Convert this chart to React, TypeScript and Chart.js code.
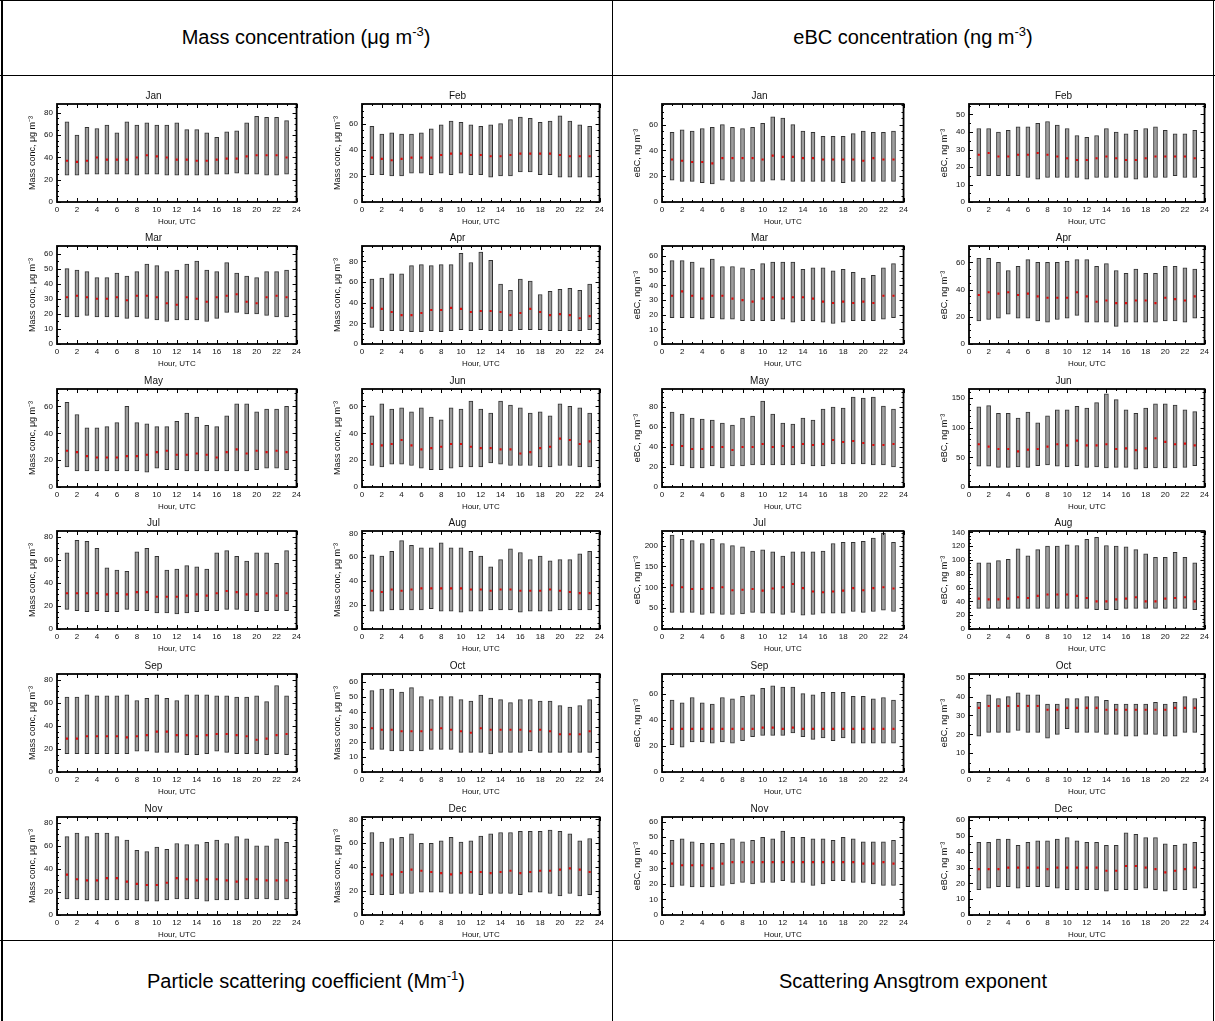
import React, { useEffect, useRef } from "react";
import { Chart, registerables } from "chart.js";

Chart.register(...registerables);
Chart.defaults.font.family = "'Liberation Sans', Arial, Helvetica, sans-serif";

// ---------- DATA ----------
const HOURS = [1, 2, 3, 4, 5, 6, 7, 8, 9, 10, 11, 12, 13, 14, 15, 16, 17, 18, 19, 20, 21, 22, 23];
const MONTHS = ["Jan", "Feb", "Mar", "Apr", "May", "Jun", "Jul", "Aug", "Sep", "Oct", "Nov", "Dec"];
const X_MAX = 24;
const X_STEP = 2;

const MASS_TITLE = "Mass conc, \u03bcg m\u207b\u00b3";
const EBC_TITLE = "eBC, ng m\u207b\u00b3";

// Mass concentration (µg m-3): hourly upper/lower whisker and median
const massJanHi = [72, 60, 67, 66, 69, 62, 72, 69, 71, 69, 69, 71, 65, 65, 62, 58, 63, 64, 71, 77, 76, 76, 73];
const massJanLo = [24, 24, 25, 25, 25, 25, 25, 24, 25, 25, 24, 24, 24, 24, 24, 25, 25, 26, 25, 25, 24, 24, 25];
const massJanMed = [37, 36, 37, 40, 38, 38, 38, 40, 42, 41, 40, 38, 38, 37, 37, 38, 39, 39, 41, 42, 42, 42, 40];

const massFebHi = [58, 52, 53, 52, 52, 53, 56, 59, 62, 61, 59, 58, 59, 60, 63, 65, 64, 61, 62, 66, 62, 59, 58];
const massFebLo = [21, 21, 20, 20, 22, 22, 21, 22, 21, 22, 21, 21, 19, 20, 20, 23, 23, 21, 21, 19, 19, 19, 19];
const massFebMed = [34, 33, 32, 33, 34, 34, 34, 36, 37, 37, 36, 36, 35, 35, 36, 37, 37, 37, 37, 36, 35, 35, 35];

const massMarHi = [50, 49, 48, 44, 44, 47, 45, 48, 53, 52, 48, 49, 53, 55, 49, 48, 54, 47, 45, 44, 48, 48, 49];
const massMarLo = [18, 18, 19, 18, 18, 18, 17, 18, 17, 16, 15, 16, 16, 16, 15, 17, 21, 21, 20, 20, 19, 18, 18];
const massMarMed = [31, 32, 31, 30, 30, 31, 29, 32, 32, 31, 27, 26, 31, 30, 28, 31, 32, 33, 28, 27, 31, 32, 31];

const massAprHi = [63, 64, 68, 68, 76, 77, 76, 77, 77, 88, 79, 89, 81, 58, 52, 63, 61, 48, 51, 53, 54, 52, 58];
const massAprLo = [16, 13, 13, 13, 12, 12, 13, 12, 13, 14, 13, 14, 13, 13, 13, 14, 14, 14, 13, 13, 13, 13, 14];
const massAprMed = [35, 34, 31, 28, 28, 30, 33, 33, 35, 34, 31, 32, 32, 31, 28, 30, 34, 31, 28, 29, 28, 25, 27];

const massMayHi = [63, 54, 44, 44, 45, 48, 60, 48, 47, 45, 45, 49, 55, 52, 46, 45, 53, 62, 62, 56, 58, 58, 60];
const massMayLo = [15, 12, 12, 12, 12, 12, 12, 12, 11, 14, 13, 13, 12, 12, 12, 12, 12, 12, 12, 13, 14, 14, 13];
const massMayMed = [27, 26, 23, 22, 22, 22, 23, 23, 24, 26, 27, 24, 24, 25, 24, 22, 26, 28, 25, 27, 26, 27, 26];

const massJunHi = [53, 62, 58, 59, 56, 59, 52, 50, 59, 58, 64, 58, 55, 64, 61, 59, 55, 56, 53, 62, 60, 59, 55];
const massJunLo = [16, 15, 17, 17, 16, 14, 13, 13, 14, 15, 15, 15, 18, 17, 16, 16, 16, 15, 15, 16, 16, 15, 15];
const massJunMed = [32, 31, 32, 35, 31, 28, 29, 30, 32, 32, 30, 29, 29, 28, 28, 25, 26, 29, 30, 36, 35, 32, 34];

const massJulHi = [66, 77, 76, 70, 53, 51, 50, 67, 70, 63, 51, 52, 55, 54, 52, 66, 68, 63, 59, 66, 66, 57, 68];
const massJulLo = [17, 16, 15, 16, 15, 15, 17, 16, 16, 14, 14, 13, 14, 15, 16, 16, 17, 17, 16, 15, 16, 16, 16];
const massJulMed = [31, 31, 31, 31, 30, 31, 30, 32, 32, 28, 28, 28, 29, 30, 29, 31, 33, 32, 30, 30, 31, 29, 31];

const massAugHi = [62, 61, 65, 74, 70, 68, 68, 72, 68, 68, 65, 61, 52, 58, 67, 64, 58, 61, 57, 58, 58, 63, 65];
const massAugLo = [15, 15, 16, 16, 16, 16, 17, 15, 15, 14, 15, 15, 16, 16, 16, 14, 15, 15, 15, 16, 16, 16, 16];
const massAugMed = [32, 31, 33, 32, 33, 34, 34, 34, 34, 34, 33, 33, 32, 33, 33, 32, 32, 32, 33, 32, 31, 30, 30];

const massSepHi = [65, 65, 67, 66, 66, 66, 67, 62, 64, 67, 64, 62, 67, 67, 67, 66, 66, 65, 65, 66, 61, 75, 66];
const massSepLo = [16, 16, 16, 16, 16, 16, 16, 18, 18, 17, 17, 17, 15, 15, 16, 18, 17, 16, 16, 16, 15, 16, 15];
const massSepMed = [29, 29, 31, 31, 31, 31, 30, 31, 32, 35, 35, 32, 32, 31, 32, 33, 33, 32, 31, 28, 29, 32, 33];

const massOctHi = [54, 55, 55, 53, 56, 50, 48, 50, 50, 48, 47, 51, 49, 48, 46, 48, 48, 47, 47, 44, 43, 44, 48];
const massOctLo = [15, 15, 14, 14, 14, 14, 15, 15, 15, 13, 13, 13, 12, 13, 13, 13, 14, 13, 13, 13, 13, 13, 13];
const massOctMed = [29, 28, 28, 27, 27, 27, 28, 29, 28, 27, 26, 29, 28, 28, 28, 28, 27, 28, 27, 25, 25, 25, 27];

const massNovHi = [68, 71, 68, 71, 71, 68, 65, 56, 55, 59, 57, 62, 61, 61, 63, 65, 62, 68, 66, 60, 60, 66, 63];
const massNovLo = [14, 14, 13, 13, 13, 13, 13, 13, 12, 12, 13, 14, 14, 14, 12, 13, 13, 13, 14, 14, 14, 13, 14];
const massNovMed = [35, 31, 30, 30, 32, 32, 29, 27, 26, 26, 28, 32, 31, 30, 31, 31, 30, 29, 31, 31, 30, 30, 30];

const massDecHi = [69, 61, 64, 65, 68, 60, 60, 62, 65, 61, 62, 66, 68, 69, 69, 70, 70, 70, 71, 70, 68, 62, 64];
const massDecLo = [17, 17, 17, 18, 18, 19, 19, 19, 18, 18, 18, 17, 18, 18, 18, 17, 19, 19, 18, 16, 18, 16, 17];
const massDecMed = [34, 33, 34, 36, 38, 37, 36, 35, 34, 35, 36, 36, 35, 36, 37, 35, 36, 37, 37, 38, 39, 38, 36];

// eBC concentration (ng m-3)
const ebcJanHi = [54, 56, 55, 57, 58, 60, 58, 57, 58, 61, 66, 65, 60, 55, 54, 51, 51, 51, 53, 55, 54, 54, 55];
const ebcJanLo = [17, 16, 16, 15, 14, 17, 16, 16, 16, 16, 17, 17, 16, 16, 16, 16, 16, 15, 16, 16, 16, 16, 16];
const ebcJanMed = [33, 32, 31, 31, 30, 34, 34, 34, 34, 33, 36, 35, 35, 34, 34, 33, 33, 33, 33, 32, 34, 33, 33];

const ebcFebHi = [42, 42, 40, 41, 43, 43, 45, 46, 44, 42, 38, 37, 38, 42, 40, 39, 41, 42, 43, 41, 39, 39, 41];
const ebcFebLo = [15, 15, 15, 15, 15, 14, 13, 14, 14, 14, 14, 13, 14, 14, 14, 14, 13, 14, 14, 14, 15, 14, 14];
const ebcFebMed = [27, 28, 26, 26, 27, 27, 28, 27, 26, 25, 24, 24, 25, 26, 25, 24, 24, 25, 26, 26, 26, 26, 25];

const ebcMarHi = [57, 57, 56, 52, 58, 53, 53, 52, 51, 55, 56, 56, 56, 51, 52, 52, 50, 51, 49, 45, 47, 52, 55];
const ebcMarLo = [18, 18, 18, 17, 18, 17, 17, 16, 16, 16, 16, 17, 15, 16, 16, 15, 14, 15, 16, 16, 16, 17, 18];
const ebcMarMed = [33, 36, 33, 31, 33, 33, 31, 30, 29, 31, 32, 31, 32, 32, 31, 29, 28, 29, 28, 29, 28, 33, 33];

const ebcAprHi = [63, 63, 60, 54, 57, 62, 60, 60, 60, 61, 62, 62, 57, 59, 54, 52, 55, 52, 52, 57, 57, 56, 55];
const ebcAprLo = [17, 18, 19, 22, 19, 19, 17, 16, 18, 19, 21, 16, 16, 16, 13, 16, 16, 16, 16, 17, 17, 16, 19];
const ebcAprMed = [36, 38, 37, 38, 36, 37, 35, 34, 34, 34, 38, 35, 31, 32, 30, 30, 32, 32, 30, 34, 33, 32, 35];

const ebcMayHi = [75, 73, 69, 68, 67, 64, 62, 69, 71, 86, 73, 64, 63, 69, 67, 78, 80, 79, 90, 89, 90, 81, 78];
const ebcMayLo = [22, 21, 19, 19, 21, 19, 21, 21, 22, 22, 22, 22, 22, 23, 21, 21, 23, 23, 23, 23, 22, 22, 20];
const ebcMayMed = [42, 41, 38, 38, 40, 40, 37, 40, 40, 43, 40, 41, 40, 43, 42, 43, 47, 45, 46, 44, 42, 42, 43];

const ebcJunHi = [135, 137, 124, 124, 116, 126, 108, 120, 130, 130, 136, 133, 142, 157, 147, 130, 124, 133, 140, 140, 138, 130, 127];
const ebcJunLo = [35, 35, 33, 33, 34, 33, 36, 37, 35, 34, 36, 33, 34, 32, 33, 33, 30, 32, 32, 32, 32, 33, 36];
const ebcJunMed = [72, 68, 64, 64, 60, 63, 64, 68, 72, 70, 78, 70, 70, 72, 64, 65, 62, 65, 82, 76, 72, 73, 70];

const ebcJulHi = [225, 215, 212, 205, 215, 205, 200, 197, 187, 190, 185, 175, 185, 185, 185, 187, 205, 208, 208, 210, 218, 230, 208];
const ebcJulLo = [40, 40, 40, 35, 38, 35, 35, 36, 40, 38, 38, 35, 40, 33, 35, 38, 38, 38, 42, 40, 42, 45, 42];
const ebcJulMed = [105, 100, 96, 96, 98, 100, 93, 94, 96, 92, 97, 100, 108, 98, 90, 88, 90, 92, 98, 93, 98, 100, 97];

const ebcAugHi = [96, 96, 99, 101, 116, 106, 115, 120, 120, 122, 121, 130, 133, 121, 120, 119, 115, 109, 104, 104, 111, 104, 96];
const ebcAugLo = [30, 30, 30, 30, 30, 30, 30, 30, 30, 30, 30, 30, 28, 28, 28, 30, 30, 30, 30, 30, 30, 30, 28];
const ebcAugMed = [44, 43, 43, 44, 46, 45, 48, 50, 50, 50, 48, 45, 40, 40, 43, 44, 46, 40, 40, 44, 45, 46, 40];

const ebcSepHi = [55, 53, 57, 53, 52, 57, 56, 58, 59, 64, 66, 65, 65, 60, 59, 61, 61, 61, 58, 58, 56, 57, 55];
const ebcSepLo = [21, 19, 23, 23, 22, 23, 22, 24, 27, 28, 28, 28, 30, 27, 25, 26, 24, 26, 22, 22, 22, 22, 22];
const ebcSepMed = [33, 33, 33, 33, 33, 33, 33, 33, 33, 34, 34, 33, 34, 33, 33, 33, 33, 33, 33, 33, 33, 33, 33];

const ebcOctHi = [37, 41, 39, 40, 42, 41, 41, 36, 36, 39, 39, 40, 40, 38, 36, 36, 36, 36, 37, 36, 37, 40, 39];
const ebcOctLo = [19, 21, 21, 21, 22, 21, 21, 18, 20, 23, 21, 21, 21, 20, 20, 19, 19, 20, 20, 19, 19, 21, 21];
const ebcOctMed = [34, 35, 35, 35, 35, 35, 35, 33, 33, 34, 34, 34, 34, 33, 33, 33, 33, 33, 33, 33, 34, 34, 34];

const ebcNovHi = [48, 49, 47, 46, 46, 46, 49, 47, 48, 50, 49, 54, 50, 50, 49, 49, 48, 50, 49, 47, 47, 47, 48];
const ebcNovLo = [18, 19, 18, 18, 18, 19, 20, 21, 20, 21, 21, 22, 21, 21, 19, 20, 22, 22, 21, 21, 20, 19, 19];
const ebcNovMed = [33, 32, 32, 32, 30, 33, 34, 34, 34, 34, 34, 34, 34, 34, 34, 34, 34, 34, 34, 33, 33, 34, 33];

const ebcDecHi = [46, 46, 48, 48, 44, 46, 47, 47, 48, 49, 47, 46, 46, 44, 44, 52, 51, 49, 49, 45, 44, 45, 46];
const ebcDecLo = [16, 17, 18, 18, 17, 18, 18, 18, 17, 16, 16, 16, 16, 15, 16, 16, 16, 17, 16, 15, 16, 16, 17];
const ebcDecMed = [29, 29, 29, 30, 30, 30, 30, 29, 30, 30, 30, 30, 30, 28, 28, 31, 31, 30, 29, 27, 28, 29, 30];

const massHi = [massJanHi, massFebHi, massMarHi, massAprHi, massMayHi, massJunHi, massJulHi, massAugHi, massSepHi, massOctHi, massNovHi, massDecHi];
const massLo = [massJanLo, massFebLo, massMarLo, massAprLo, massMayLo, massJunLo, massJulLo, massAugLo, massSepLo, massOctLo, massNovLo, massDecLo];
const massMed = [massJanMed, massFebMed, massMarMed, massAprMed, massMayMed, massJunMed, massJulMed, massAugMed, massSepMed, massOctMed, massNovMed, massDecMed];
const ebcHi = [ebcJanHi, ebcFebHi, ebcMarHi, ebcAprHi, ebcMayHi, ebcJunHi, ebcJulHi, ebcAugHi, ebcSepHi, ebcOctHi, ebcNovHi, ebcDecHi];
const ebcLo = [ebcJanLo, ebcFebLo, ebcMarLo, ebcAprLo, ebcMayLo, ebcJunLo, ebcJulLo, ebcAugLo, ebcSepLo, ebcOctLo, ebcNovLo, ebcDecLo];
const ebcMed = [ebcJanMed, ebcFebMed, ebcMarMed, ebcAprMed, ebcMayMed, ebcJunMed, ebcJulMed, ebcAugMed, ebcSepMed, ebcOctMed, ebcNovMed, ebcDecMed];

// y-axis ranges per month
const massYMax = [88, 75, 65, 95, 73, 73, 85, 82, 85, 65, 85, 82];
const massYStep = [20, 20, 10, 20, 20, 20, 20, 20, 20, 10, 20, 20];
const ebcYMax = [76, 56, 67, 72, 98, 165, 235, 142, 75, 52, 63, 62];
const ebcYStep = [20, 10, 10, 20, 20, 50, 50, 20, 20, 10, 10, 10];

// ---------- LAYOUT ----------
const COL_LEFT = [57, 362, 662, 969];
const COL_W = [241, 239, 243, 237];
const ROW_TOP = [104, 246, 389, 531, 674, 817];
const BOX_H = 98;
const Y_AXIS_W = 48;
const X_AXIS_H = 30;
const TITLE_H = 16;
const RIGHT_PAD = 6;

const framePlugin = {
  id: "frame",
  afterDatasetsDraw(chart: any, _args: any, opts: any) {
    const { ctx, chartArea: a, scales } = chart;
    const xs = scales.x;
    const ys = scales.y;
    ctx.save();
    ctx.strokeStyle = "#000";
    ctx.lineWidth = 1;
    const seg = (x1: number, y1: number, x2: number, y2: number) => {
      ctx.beginPath();
      ctx.moveTo(x1, y1);
      ctx.lineTo(x2, y2);
      ctx.stroke();
    };
    for (let v = 0; v <= X_MAX; v += 1) {
      const px = Math.round(xs.getPixelForValue(v)) + 0.5;
      const len = v % X_STEP === 0 ? 4 : 2;
      seg(px, a.bottom, px, a.bottom - len);
      seg(px, a.top, px, a.top + len);
    }
    const { step, minor, max } = opts;
    for (let v = 0; v <= max; v += minor) {
      const py = Math.round(ys.getPixelForValue(v)) + 0.5;
      const len = v % step === 0 ? 4 : 2;
      seg(a.left, py, a.left + len, py);
      seg(a.right, py, a.right - len, py);
    }
    ctx.lineWidth = 1.8;
    ctx.strokeRect(a.left, a.top, a.right - a.left, a.bottom - a.top);
    ctx.restore();
  },
};

type PanelProps = {
  title: string;
  hi: number[];
  lo: number[];
  med: number[];
  yMax: number;
  yStep: number;
  yTitle: string;
  boxLeft: number;
  boxTop: number;
  boxW: number;
};

function Panel(p: PanelProps) {
  const ref = useRef<HTMLCanvasElement>(null);
  const w = Y_AXIS_W + p.boxW + RIGHT_PAD;
  const h = TITLE_H + BOX_H + X_AXIS_H;
  useEffect(() => {
    const minor = p.yStep >= 50 ? 10 : 5;
    const chart = new Chart(ref.current as HTMLCanvasElement, {
      type: "bar",
      data: {
        datasets: [
          {
            type: "scatter",
            data: HOURS.map((x, i) => ({ x, y: p.med[i] })),
            pointStyle: "rect",
            pointRadius: 1.5,
            backgroundColor: "#e00a0a",
            borderWidth: 0,
            order: 0,
          } as any,
          {
            type: "bar",
            data: HOURS.map((x, i) => ({ x, y: [p.lo[i], p.hi[i]] })),
            backgroundColor: "#9e9e9e",
            borderColor: "#333333",
            borderWidth: 1,
            borderSkipped: false,
            barThickness: 4,
            order: 1,
          } as any,
        ],
      },
      options: {
        animation: false,
        responsive: false,
        events: [],
        layout: { padding: { left: 0, right: RIGHT_PAD, top: 0, bottom: 0 } },
        plugins: {
          legend: { display: false },
          tooltip: { enabled: false },
          title: {
            display: true,
            text: p.title,
            color: "#111",
            font: { size: 10, weight: "normal" },
            padding: { top: 2, bottom: 2 },
          },
          frame: { step: p.yStep, minor, max: p.yMax },
        } as any,
        scales: {
          x: {
            type: "linear",
            min: 0,
            max: X_MAX,
            offset: false,
            grid: { display: false, drawTicks: false },
            border: { display: false },
            ticks: { stepSize: X_STEP, font: { size: 8 }, color: "#111", padding: 3, maxRotation: 0, autoSkip: false },
            title: { display: true, text: "Hour, UTC", font: { size: 8 }, color: "#111", padding: { top: 0, bottom: 5 } },
            afterFit: (s: any) => {
              s.height = X_AXIS_H;
            },
          },
          y: {
            type: "linear",
            min: 0,
            max: p.yMax,
            grid: { display: false, drawTicks: false },
            border: { display: false },
            ticks: {
              stepSize: p.yStep,
              includeBounds: false,
              font: { size: 8 },
              color: "#111",
              padding: 4,
              callback: (v: any) => (Number(v) % p.yStep === 0 ? String(v) : ""),
            },
            title: { display: true, text: p.yTitle, font: { size: 9 }, color: "#111", padding: { top: 18, bottom: 0 } },
            afterFit: (s: any) => {
              s.width = Y_AXIS_W;
            },
          },
        } as any,
      },
      plugins: [framePlugin as any],
    } as any);
    return () => chart.destroy();
  }, []);
  return (
    <canvas
      ref={ref}
      width={w}
      height={h}
      style={{ position: "absolute", left: p.boxLeft - Y_AXIS_W, top: p.boxTop - TITLE_H, width: w, height: h }}
    />
  );
}

const headerStyle: React.CSSProperties = {
  position: "absolute",
  display: "flex",
  alignItems: "center",
  justifyContent: "center",
  fontFamily: "'Liberation Sans', Arial, sans-serif",
  fontSize: 20,
  color: "#000",
};

const supStyle: React.CSSProperties = { fontSize: 13, verticalAlign: "super", lineHeight: 0 };

function Line(props: { x: number; y: number; w: number; h: number }) {
  return <div style={{ position: "absolute", left: props.x, top: props.y, width: props.w, height: props.h, background: "#000" }} />;
}

export default function App() {
  const panels: React.ReactNode[] = [];
  MONTHS.forEach((m, i) => {
    const row = Math.floor(i / 2);
    const col = i % 2;
    panels.push(
      <Panel
        key={"mass" + m}
        title={m}
        hi={massHi[i]}
        lo={massLo[i]}
        med={massMed[i]}
        yMax={massYMax[i]}
        yStep={massYStep[i]}
        yTitle={MASS_TITLE}
        boxLeft={COL_LEFT[col]}
        boxTop={ROW_TOP[row]}
        boxW={COL_W[col]}
      />
    );
    panels.push(
      <Panel
        key={"ebc" + m}
        title={m}
        hi={ebcHi[i]}
        lo={ebcLo[i]}
        med={ebcMed[i]}
        yMax={ebcYMax[i]}
        yStep={ebcYStep[i]}
        yTitle={EBC_TITLE}
        boxLeft={COL_LEFT[col + 2]}
        boxTop={ROW_TOP[row]}
        boxW={COL_W[col + 2]}
      />
    );
  });

  return (
    <div style={{ position: "absolute", left: 0, top: 0, width: 1215, height: 1021, background: "#fff", overflow: "hidden" }}>
      <div style={{ ...headerStyle, left: 0, top: 0, width: 612, height: 75 }}>
        <span>
          Mass concentration ({"\u03bc"}g m<span style={supStyle}>-3</span>)
        </span>
      </div>
      <div style={{ ...headerStyle, left: 612, top: 0, width: 602, height: 75 }}>
        <span>
          eBC concentration (ng m<span style={supStyle}>-3</span>)
        </span>
      </div>
      <div style={{ ...headerStyle, left: 0, top: 941, width: 612, height: 80 }}>
        <span>
          Particle scattering coefficient (Mm<span style={supStyle}>-1</span>)
        </span>
      </div>
      <div style={{ ...headerStyle, left: 612, top: 941, width: 602, height: 80 }}>
        <span>Scattering Ansgtrom exponent</span>
      </div>
      {panels}
      <Line x={0} y={0} w={1215} h={1} />
      <Line x={1} y={0} w={2} h={1021} />
      <Line x={1213} y={0} w={1} h={1021} />
      <Line x={612} y={0} w={1} h={1021} />
      <Line x={0} y={75} w={1215} h={1} />
      <Line x={0} y={940} w={1215} h={1} />
    </div>
  );
}
